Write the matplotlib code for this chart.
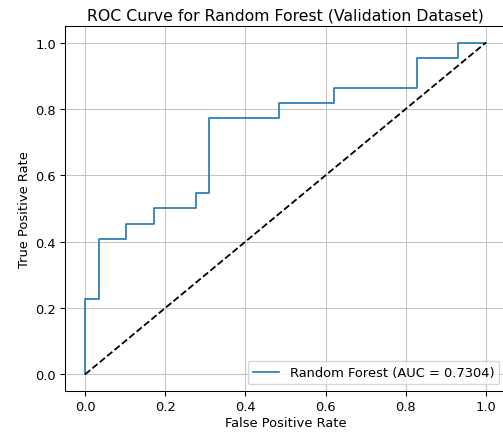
import matplotlib.pyplot as plt

# ROC curve points (false positive rate, true positive rate) on the validation set
fpr = [0.0, 0.0, 0.0345, 0.0345, 0.1034, 0.1034, 0.1724, 0.1724, 0.2759, 0.2759,
       0.3103, 0.3103, 0.4828, 0.4828, 0.6207, 0.6207, 0.8276, 0.8276, 0.9310, 0.9310, 1.0]
tpr = [0.0, 0.2273, 0.2273, 0.4091, 0.4091, 0.4545, 0.4545, 0.5, 0.5, 0.5455,
       0.5455, 0.7727, 0.7727, 0.8182, 0.8182, 0.8636, 0.8636, 0.9545, 0.9545, 1.0, 1.0]
auc_score = 0.7304

plt.rcParams['font.size'] = 9.4
plt.rcParams['axes.linewidth'] = 0.75

fig = plt.figure(figsize=(5.03, 4.39), dpi=100)
ax = fig.add_axes([0.1292, 0.1071, 0.8767, 0.8314])

ax.plot(fpr, tpr, color='#1f77b4', lw=1.2, label=f'Random Forest (AUC = {auc_score:.4f})')
ax.plot([0, 1], [0, 1], 'k--', lw=1.3)

ax.set_xlim(-0.05, 1.05)
ax.set_ylim(-0.05, 1.05)
ax.set_xlabel('False Positive Rate', labelpad=2)
ax.set_ylabel('True Positive Rate', labelpad=3)
ax.set_title('ROC Curve for Random Forest (Validation Dataset)', fontsize=11.3, pad=5)
ax.tick_params(width=0.75, length=3.3, pad=3.3)
ax.legend(loc='lower right')
ax.grid(True, lw=0.75, color='#c4c4c4')

plt.savefig('out.png', dpi=100)
